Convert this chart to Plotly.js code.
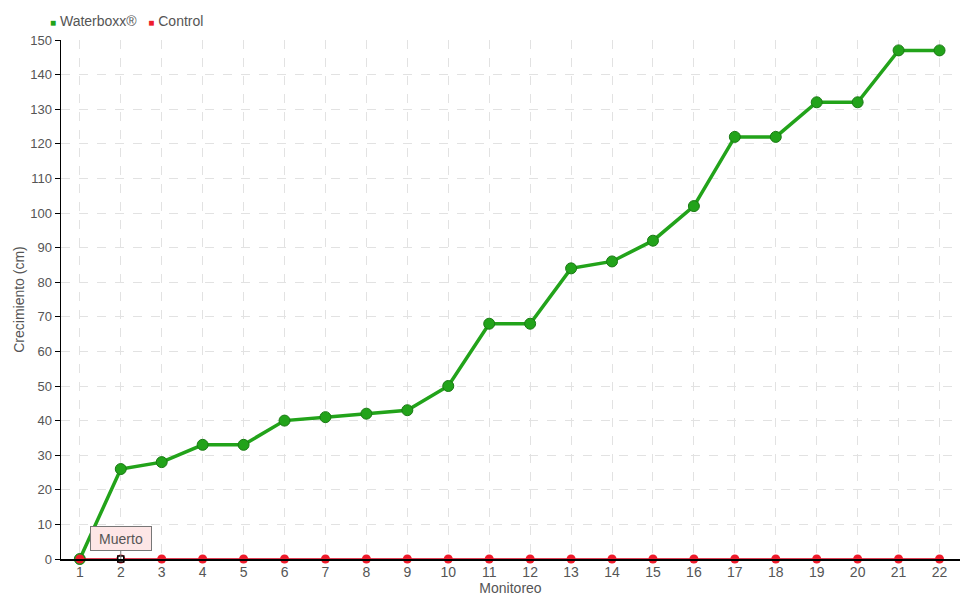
<!DOCTYPE html>
<html><head><meta charset="utf-8">
<script src="https://cdn.plot.ly/plotly-3.0.1.min.js"></script>
<style>body{margin:0;background:#fff}#c{width:980px;height:600px}
#c text{font-stretch:condensed !important;}</style>
</head><body><div id="c"></div>
<script>
const monitoreo = ["1","2","3","4","5","6","7","8","9","10","11","12","13","14","15","16","17","18","19","20","21","22"];
const waterboxx = [0,26,28,33,33,40,41,42,43,50,68,68,84,86,92,102,122,122,132,132,147,147];
const control = [0,0,0,0,0,0,0,0,0,0,0,0,0,0,0,0,0,0,0,0,0,0];
const seriesNames = ["Waterboxx®", "Control"];
const deadIndex = 1; const deadLabel = "Muerto";
const xi = monitoreo.map((_, i) => i);
const F = "'Liberation Sans Narrow', 'Liberation Sans', sans-serif";
const GREEN = '#22a31a', RED = '#ee1c2c';
const traces = [
  {x: xi, y: waterboxx, mode: 'lines+markers', name: seriesNames[0], showlegend: false, cliponaxis: false,
   line: {color: GREEN, width: 3.5}, marker: {color: GREEN, size: 11, line: {color: '#1a7a14', width: 1}}},
  {x: xi, y: control, mode: 'lines+markers', name: seriesNames[1], showlegend: false, cliponaxis: false,
   line: {color: '#d6001c', width: 1.5}, marker: {color: RED, size: 9, line: {width: 0}}},
  {x: [deadIndex], y: [control[deadIndex]], mode: 'markers', showlegend: false, cliponaxis: false,
   marker: {symbol: 'square', color: '#fff', size: 6, line: {color: '#000', width: 1.5}}}
];
const layout = {
  width: 980, height: 600,
  margin: {l: 61, r: 20, t: 40, b: 41},
  paper_bgcolor: '#fff', plot_bgcolor: '#fff',
  font: {family: F, size: 14, color: '#555'},
  showlegend: false,
  xaxis: {
    tickmode: 'array', tickvals: xi, ticktext: monitoreo,
    range: [-0.46, 21.5], showline: true, linecolor: '#000', linewidth: 1.5,
    showgrid: true, gridcolor: '#e2e2e2', griddash: 'dash', zeroline: false,
    ticks: '', ticklen: 0, tickfont: {family: F, size: 14, color: '#555'},
    title: {text: 'Monitoreo', font: {family: F, size: 14, color: '#555'}, standoff: 0}
  },
  yaxis: {
    range: [0, 150], tickvals: [0,10,20,30,40,50,60,70,80,90,100,110,120,130,140,150],
    showline: true, linecolor: '#000', linewidth: 1.5, ticks: 'outside', ticklen: 5, tickcolor: '#000',
    showgrid: true, gridcolor: '#e2e2e2', griddash: 'dash', zeroline: false,
    tickfont: {family: F, size: 13, color: '#555'},
    title: {text: 'Crecimiento (cm)', font: {family: F, size: 14, color: '#555'}, standoff: 2}
  },
  annotations: [
    {x: deadIndex, y: control[deadIndex], xref: 'x', yref: 'y', text: deadLabel,
     showarrow: true, arrowhead: 0, arrowwidth: 1, arrowcolor: '#777', ax: 0, ay: -8, yanchor: 'bottom',
     width: 54, height: 17,
     bgcolor: '#fde6e6', bordercolor: '#777', borderwidth: 1, borderpad: 3,
     font: {family: F, size: 14, color: '#555'}},
    {xref: 'paper', yref: 'paper', x: -0.015, y: 1.037, xanchor: 'left', yanchor: 'middle', showarrow: false,
     text: '<span style="color:' + GREEN + ';font-size:10px">■</span> ' + seriesNames[0] + '   <span style="color:' + RED + ';font-size:10px">■</span> ' + seriesNames[1],
     font: {family: F, size: 14, color: '#555'}}
  ]
};
Plotly.newPlot('c', traces, layout, {displayModeBar: false, staticPlot: true});
</script></body></html>
